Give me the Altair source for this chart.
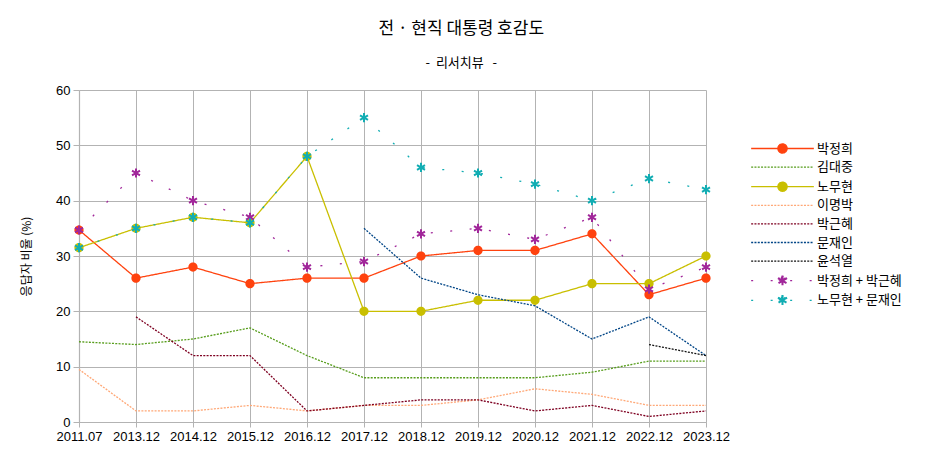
import altair as alt
import pandas as pd

periods = ["2011.07", "2013.12", "2014.12", "2015.12", "2016.12", "2017.12",
           "2018.12", "2019.12", "2020.12", "2021.12", "2022.12", "2023.12"]

park_cj = [34.7, 26, 28, 25, 26, 26, 30, 31, 31, 34, 23, 26]
kim_dj = [14.5, 14, 15, 17, 12, 8, 8, 8, 8, 9, 11, 11]
roh_mh = [31.5, 35, 37, 36, 48, 20, 20, 22, 22, 25, 25, 30]
lee_mb = [9.5, 2, 2, 3, 2, 3, 3, 4, 6, 5, 3, 3]
park_gh = [None, 19, 12, 12, 2, 3, 4, 4, 2, 3, 1, 2]
moon_ji = [None, None, None, None, None, 35, 26, 23, 21, 15, 19, 12]
yoon_sy = [None, None, None, None, None, None, None, None, None, None, 14, 12]
park_sum = [34.7, 45, 40, 37, 28, 29, 34, 35, 33, 37, 24, 28]
roh_moon_sum = [31.5, 35, 37, 36, 48, 55, 46, 45, 43, 40, 44, 42]

names = ["박정희", "김대중", "노무현", "이명박", "박근혜", "문재인", "윤석열",
         "박정희 + 박근혜", "노무현 + 문재인"]
series_values = [park_cj, kim_dj, roh_mh, lee_mb, park_gh, moon_ji, yoon_sy,
                 park_sum, roh_moon_sum]
marker_series = ["박정희", "노무현", "박정희 + 박근혜", "노무현 + 문재인"]

colors = ["#ff420e", "#579d1c", "#c9bf00", "#ffa877", "#7e0021", "#004586",
          "#111111", "#a1279a", "#12adb3"]
solid = [1, 0]
fine = [2, 1.3]
sparse = [2, 17.5]
dashes = [solid, fine, solid, fine, fine, fine, fine, sparse, sparse]
widths = [1.3, 1.3, 1.3, 1.3, 1.3, 1.3, 1.3, 2.2, 2.2]

LINE = "M-6.8,0H6.8"
CIRCLE = "M1,0A1,1,0,1,1,-1,0A1,1,0,1,1,1,0Z"
ASTER = ("M-0.22,-1L0.22,-1L0.22,1L-0.22,1Z"
         "M0.756,-0.69L0.976,-0.31L-0.756,0.69L-0.976,0.31Z"
         "M-0.976,-0.31L-0.756,-0.69L0.976,0.31L0.756,0.69Z")
shapes = [LINE + CIRCLE, LINE, LINE + CIRCLE, LINE, LINE, LINE, LINE,
          LINE + ASTER, LINE + ASTER]

rows = []
for name, vals in zip(names, series_values):
    for p, v in zip(periods, vals):
        if v is not None:
            rows.append({"series": name, "period": p, "value": v})
df = pd.DataFrame(rows)
df_pts = df[df["series"].isin(marker_series)]

FONT = "Liberation Sans, Noto Sans CJK KR"
KFONT = "Noto Sans CJK KR"

legend = alt.Legend(orient="none", legendX=697, legendY=52, title=None,
                    symbolSize=85, symbolStrokeWidth=1.4, labelOffset=28,
                    labelFont=KFONT, labelFontSize=13, labelColor="#000000",
                    rowPadding=4.6)

color_scale = alt.Scale(domain=names, range=colors)
x_enc = alt.X("period:O", sort=periods,
              scale=alt.Scale(type="point", padding=0),
              axis=alt.Axis(title=None, labelAngle=0, grid=True,
                            labelFont=FONT, labelFontSize=13, labelColor="#000000",
                            tickSize=5, labelPadding=3))
y_enc = alt.Y("value:Q", scale=alt.Scale(domain=[0, 60], nice=False),
              axis=alt.Axis(title="응답자 비율 (%)", values=[0, 10, 20, 30, 40, 50, 60],
                            labelFont=FONT, labelFontSize=13, labelColor="#000000",
                            titleFont=KFONT, titleFontSize=12, titleFontWeight="normal",
                            titleColor="#000000", titlePadding=22,
                            tickSize=6, labelPadding=3))

lines = alt.Chart(df).mark_line().encode(
    x=x_enc, y=y_enc,
    color=alt.Color("series:N", scale=color_scale, legend=legend),
    strokeDash=alt.StrokeDash("series:N", scale=alt.Scale(domain=names, range=dashes), legend=legend),
    strokeWidth=alt.StrokeWidth("series:N", scale=alt.Scale(domain=names, range=widths), legend=None),
)

points = alt.Chart(df_pts).mark_point(filled=True, opacity=1, strokeWidth=0, size=85).encode(
    x=x_enc, y=y_enc,
    color=alt.Color("series:N", scale=color_scale, legend=legend),
    shape=alt.Shape("series:N", scale=alt.Scale(domain=names, range=shapes), legend=legend),
)

chart = alt.layer(lines, points).properties(
    width=627, height=332,
    title=alt.TitleParams(text="전 · 현직 대통령 호감도",
                          subtitle="-\u00a0\u00a0리서치뷰\u00a0\u00a0\u00a0-"),
    padding={"left": 12, "top": 12, "right": 5, "bottom": 5},
).configure_view(stroke=None).configure_axis(
    gridColor="#b3b3b3", domainColor="#b3b3b3", tickColor="#b3b3b3",
    gridWidth=1, domainWidth=1.2,
).configure_title(
    font=KFONT, fontSize=17, fontWeight="normal", color="#000000",
    subtitleFont=KFONT, subtitleFontSize=13, subtitleColor="#000000",
    subtitlePadding=19, anchor="middle", frame="bounds", offset=13,
)

chart.save("out.html", embed_options={"renderer": "svg", "actions": False})
